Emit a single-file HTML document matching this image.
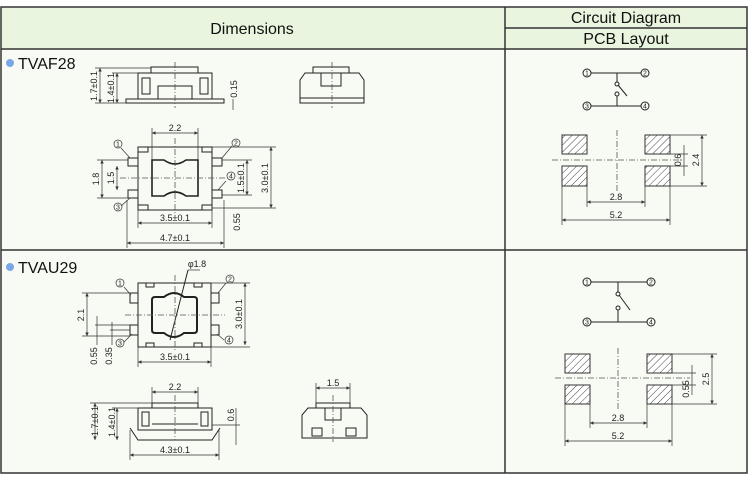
<!DOCTYPE html>
<html><head><meta charset="utf-8"><style>
html,body{margin:0;padding:0;background:#fff;}
svg{display:block;font-family:"Liberation Sans",Arial,sans-serif;}
</style></head><body>
<svg width="750" height="477" viewBox="0 0 750 477" xmlns="http://www.w3.org/2000/svg">
<defs>
<pattern id="h" width="5" height="5" patternUnits="userSpaceOnUse" patternTransform="rotate(45)">
<rect width="5" height="5" fill="#fff"/><line x1="0" y1="0" x2="0" y2="5" stroke="#444" stroke-width="1"/></pattern>
<marker id="a" viewBox="0 0 6 6" refX="6" refY="3" markerWidth="5" markerHeight="5" orient="auto-start-reverse"><path d="M0,0L6,3L0,6z" fill="#333"/></marker>
</defs>
<rect x="0" y="0" width="750" height="477" fill="#fff"/>
<rect x="1" y="7" width="746" height="42" fill="#e9f5de"/>
<rect x="1" y="49" width="746" height="424" fill="#f8fbf3"/>
<g stroke="#333" stroke-width="1.5" fill="none">
<rect x="1" y="7" width="746" height="466"/>
<line x1="1" y1="49" x2="747" y2="49"/>
<line x1="505" y1="7" x2="505" y2="473"/>
<line x1="505" y1="28" x2="747" y2="28"/>
<line x1="1" y1="250" x2="747" y2="250"/>
</g>
<g font-size="16" fill="#111" text-anchor="middle">
<text x="252" y="34">Dimensions</text>
<text x="626" y="23">Circuit Diagram</text>
<text x="626" y="44">PCB Layout</text>
</g>
<circle cx="10" cy="63" r="4" fill="#7aa7e8"/>
<text x="18" y="69" font-size="16" fill="#111">TVAF28</text>
<circle cx="10" cy="267" r="4" fill="#7aa7e8"/>
<text x="18" y="273" font-size="16" fill="#111">TVAU29</text>

<g stroke="#222" stroke-width="1" fill="none">
<!-- TVAF28 side -->
<rect x="126" y="99" width="98" height="4"/>
<rect x="138" y="73" width="74" height="26"/>
<rect x="151" y="67" width="47" height="6"/>
<rect x="142" y="78" width="8" height="16"/><rect x="200" y="78" width="8" height="16"/>
<rect x="158" y="86" width="34" height="13"/>
<!-- right view -->
<path d="M300,103V80l5,-7h54l5,7v23z"/>
<rect x="313" y="67" width="36" height="6"/>
<rect x="321" y="73" width="20" height="13"/>
<line x1="300" y1="98" x2="364" y2="98"/>
<!-- top view -->
<rect x="138" y="147" width="74" height="63"/>
<path d="M152,160h12q11,8 22,0h12v36h-12q-11,-8 -22,0h-12z" stroke-width="1.6"/>
<rect x="128" y="158" width="10" height="8"/><rect x="128" y="190" width="10" height="8"/>
<rect x="212" y="158" width="10" height="8"/><rect x="212" y="190" width="10" height="8"/>
<rect x="138" y="147" width="10" height="5"/><rect x="202" y="147" width="10" height="5"/>
<rect x="138" y="205" width="10" height="5"/><rect x="202" y="205" width="10" height="5"/>
<!-- TVAU29 top -->
<rect x="138" y="283" width="73" height="64"/>
<path d="M152,300q0,-3 3,-3h9q10,-8 20,0h10q3,0 3,3v30q0,3 -3,3h-10q-10,8 -20,0h-9q-3,0 -3,-3z" stroke-width="2"/>
<rect x="130" y="293" width="8" height="10"/><rect x="130" y="325" width="8" height="10"/>
<rect x="211" y="293" width="8" height="10"/><rect x="211" y="325" width="8" height="10"/>
<rect x="146" y="283" width="8" height="4"/><rect x="194" y="283" width="8" height="4"/>
<rect x="146" y="343" width="8" height="4"/><rect x="194" y="343" width="8" height="4"/>
<line x1="170" y1="340" x2="188" y2="270"/>
<!-- TVAU29 side -->
<rect x="138" y="408" width="74" height="22"/>
<rect x="152" y="403" width="46" height="5"/>
<path d="M130,428l8,12h74l8,-12"/>
<rect x="142" y="412" width="7" height="14"/><rect x="201" y="412" width="7" height="14"/>
<line x1="152" y1="424" x2="198" y2="424"/>
<!-- right view 2 -->
<path d="M302,438V415l6,-7h53l6,7v23z"/>
<rect x="316" y="403" width="34" height="5"/>
<rect x="325" y="408" width="16" height="12"/>
<rect x="312" y="428" width="10" height="8"/><rect x="346" y="428" width="10" height="8"/>
</g>
<!-- center lines -->
<g stroke="#555" stroke-width="0.8" stroke-dasharray="6,2,1,2" fill="none">
<line x1="175" y1="62" x2="175" y2="108"/><line x1="332" y1="62" x2="332" y2="108"/>
<line x1="175" y1="138" x2="175" y2="216"/><line x1="120" y1="178" x2="230" y2="178"/>
<line x1="175" y1="275" x2="175" y2="352"/><line x1="125" y1="315" x2="225" y2="315"/>
<line x1="175" y1="395" x2="175" y2="440"/><line x1="333" y1="395" x2="333" y2="442"/>
<line x1="617" y1="130" x2="617" y2="192"/><line x1="552" y1="160" x2="682" y2="160"/>
<line x1="618" y1="348" x2="618" y2="410"/><line x1="555" y1="378" x2="690" y2="378"/>
</g>
<!-- dims -->
<g stroke="#333" stroke-width="0.7" fill="none">
<line x1="100" y1="68" x2="100" y2="103" marker-start="url(#a)" marker-end="url(#a)"/>
<line x1="117" y1="73" x2="117" y2="103" marker-start="url(#a)" marker-end="url(#a)"/>
<line x1="95" y1="68" x2="151" y2="68"/><line x1="95" y1="103" x2="126" y2="103"/><line x1="112" y1="73" x2="138" y2="73"/>
<line x1="233" y1="99" x2="233" y2="110"/>
<line x1="152" y1="133" x2="198" y2="133" marker-start="url(#a)" marker-end="url(#a)"/>
<line x1="152" y1="128" x2="152" y2="160"/><line x1="198" y1="128" x2="198" y2="160"/>
<line x1="138" y1="223" x2="212" y2="223" marker-start="url(#a)" marker-end="url(#a)"/>
<line x1="127" y1="243" x2="224" y2="243" marker-start="url(#a)" marker-end="url(#a)"/>
<line x1="127" y1="200" x2="127" y2="248"/><line x1="224" y1="200" x2="224" y2="248"/><line x1="138" y1="210" x2="138" y2="228"/><line x1="212" y1="210" x2="212" y2="228"/>
<line x1="271" y1="147" x2="271" y2="208" marker-start="url(#a)" marker-end="url(#a)"/>
<line x1="212" y1="147" x2="276" y2="147"/><line x1="212" y1="208" x2="276" y2="208"/>
<line x1="247" y1="160" x2="247" y2="195" marker-start="url(#a)" marker-end="url(#a)"/>
<line x1="222" y1="195" x2="252" y2="195"/><line x1="222" y1="160" x2="252" y2="160"/>
<line x1="102" y1="160" x2="102" y2="198" marker-start="url(#a)" marker-end="url(#a)"/>
<line x1="117" y1="166" x2="117" y2="190" marker-start="url(#a)" marker-end="url(#a)"/>
<line x1="97" y1="160" x2="128" y2="160"/><line x1="97" y1="198" x2="128" y2="198"/>
<line x1="87" y1="293" x2="87" y2="336" marker-start="url(#a)" marker-end="url(#a)"/>
<line x1="82" y1="293" x2="130" y2="293"/><line x1="82" y1="336" x2="130" y2="336"/>
<line x1="97" y1="316" x2="97" y2="345"/><line x1="112" y1="322" x2="112" y2="345"/>
<line x1="95" y1="325" x2="130" y2="325"/><line x1="110" y1="330" x2="130" y2="330"/>
<line x1="245" y1="283" x2="245" y2="345" marker-start="url(#a)" marker-end="url(#a)"/>
<line x1="211" y1="283" x2="250" y2="283"/><line x1="211" y1="347" x2="250" y2="347"/>
<line x1="138" y1="362" x2="211" y2="362" marker-start="url(#a)" marker-end="url(#a)"/>
<line x1="138" y1="347" x2="138" y2="367"/><line x1="211" y1="347" x2="211" y2="367"/>
<line x1="152" y1="392" x2="198" y2="392" marker-start="url(#a)" marker-end="url(#a)"/>
<line x1="152" y1="387" x2="152" y2="403"/><line x1="198" y1="387" x2="198" y2="403"/>
<line x1="130" y1="455" x2="219" y2="455" marker-start="url(#a)" marker-end="url(#a)"/>
<line x1="130" y1="430" x2="130" y2="460"/><line x1="219" y1="430" x2="219" y2="460"/>
<line x1="95" y1="403" x2="95" y2="440" marker-start="url(#a)" marker-end="url(#a)"/>
<line x1="117" y1="408" x2="117" y2="440" marker-start="url(#a)" marker-end="url(#a)"/>
<line x1="90" y1="403" x2="152" y2="403"/><line x1="112" y1="408" x2="138" y2="408"/>
<line x1="236" y1="408" x2="236" y2="445"/><line x1="212" y1="425" x2="240" y2="425"/>
<line x1="316" y1="388" x2="350" y2="388" marker-start="url(#a)" marker-end="url(#a)"/>
<line x1="316" y1="383" x2="316" y2="403"/><line x1="350" y1="383" x2="350" y2="403"/>
<!-- pcb dims 1 -->
<line x1="587" y1="202" x2="645" y2="202" marker-start="url(#a)" marker-end="url(#a)"/>
<line x1="562" y1="220" x2="670" y2="220" marker-start="url(#a)" marker-end="url(#a)"/>
<line x1="587" y1="186" x2="587" y2="207"/><line x1="645" y1="186" x2="645" y2="207"/><line x1="562" y1="186" x2="562" y2="225"/><line x1="670" y1="186" x2="670" y2="225"/>
<line x1="702" y1="135" x2="702" y2="186" marker-start="url(#a)" marker-end="url(#a)"/>
<line x1="670" y1="135" x2="707" y2="135"/><line x1="670" y1="186" x2="707" y2="186"/>
<line x1="684" y1="145" x2="684" y2="176"/><line x1="670" y1="154" x2="688" y2="154"/><line x1="670" y1="166" x2="688" y2="166"/>
<!-- pcb dims 2 -->
<line x1="590" y1="423" x2="647" y2="423" marker-start="url(#a)" marker-end="url(#a)"/>
<line x1="565" y1="441" x2="672" y2="441" marker-start="url(#a)" marker-end="url(#a)"/>
<line x1="590" y1="404" x2="590" y2="428"/><line x1="647" y1="404" x2="647" y2="428"/><line x1="565" y1="404" x2="565" y2="446"/><line x1="672" y1="404" x2="672" y2="446"/>
<line x1="712" y1="354" x2="712" y2="404" marker-start="url(#a)" marker-end="url(#a)"/>
<line x1="672" y1="354" x2="717" y2="354"/><line x1="672" y1="404" x2="717" y2="404"/>
<line x1="692" y1="365" x2="692" y2="395"/><line x1="672" y1="373" x2="696" y2="373"/><line x1="672" y1="385" x2="696" y2="385"/>
<!-- leaders -->
<line x1="121" y1="148" x2="130" y2="158"/><line x1="232" y1="146" x2="222" y2="158"/>
<line x1="121" y1="206" x2="130" y2="198"/><line x1="226" y1="181" x2="218" y2="190"/>
<line x1="124" y1="287" x2="131" y2="295"/><line x1="226" y1="283" x2="218" y2="293"/>
<line x1="124" y1="342" x2="132" y2="334"/><line x1="224" y1="340" x2="217" y2="334"/>
<line x1="188" y1="270" x2="200" y2="270"/>
</g>
<g font-size="9" fill="#222" text-anchor="middle">
<text transform="translate(97,86) rotate(-90)">1.7±0.1</text>
<text transform="translate(114,88) rotate(-90)">1.4±0.1</text>
<text transform="translate(237,89) rotate(-90)">0.15</text>
<text x="175" y="131">2.2</text>
<text x="175" y="221">3.5±0.1</text>
<text x="175" y="241">4.7±0.1</text>
<text transform="translate(268,178) rotate(-90)">3.0±0.1</text>
<text transform="translate(244,178) rotate(-90)">1.5±0.1</text>
<text transform="translate(99,179) rotate(-90)">1.8</text>
<text transform="translate(114,178) rotate(-90)">1.5</text>
<text transform="translate(240,222) rotate(-90)">0.55</text>
<text x="197" y="267">φ1.8</text>
<text transform="translate(84,315) rotate(-90)">2.1</text>
<text transform="translate(97,356) rotate(-90)">0.55</text>
<text transform="translate(112,356) rotate(-90)">0.35</text>
<text transform="translate(242,314) rotate(-90)">3.0±0.1</text>
<text x="175" y="360">3.5±0.1</text>
<text x="175" y="390">2.2</text>
<text x="175" y="453">4.3±0.1</text>
<text transform="translate(98,421) rotate(-90)">1.7±0.1</text>
<text transform="translate(115,422) rotate(-90)">1.4±0.1</text>
<text transform="translate(234,415) rotate(-90)">0.6</text>
<text x="333" y="386">1.5</text>
<text x="616" y="200">2.8</text>
<text x="616" y="218">5.2</text>
<text transform="translate(699,160) rotate(-90)">2.4</text>
<text transform="translate(681,160) rotate(-90)">0.6</text>
<text x="618" y="421">2.8</text>
<text x="618" y="439">5.2</text>
<text transform="translate(709,379) rotate(-90)">2.5</text>
<text transform="translate(689,389) rotate(-90)">0.55</text>
</g>
<!-- pin circles on drawings -->
<g font-size="7" fill="#222" text-anchor="middle">
<g fill="none" stroke="#333" stroke-width="0.7">
<circle cx="118" cy="144" r="4"/><circle cx="236" cy="143" r="4"/><circle cx="118" cy="207" r="4"/><circle cx="231" cy="176" r="4"/>
<circle cx="120" cy="283" r="4"/><circle cx="230" cy="279" r="4"/><circle cx="120" cy="343" r="4"/><circle cx="229" cy="340" r="4"/>
</g>
<text x="118" y="146.5">1</text><text x="236" y="145.5">2</text><text x="118" y="209.5">3</text><text x="231" y="178.5">4</text>
<text x="120" y="285.5">1</text><text x="230" y="281.5">2</text><text x="120" y="345.5">3</text><text x="229" y="342.5">4</text>
</g>
<!-- circuit 1 -->
<g stroke="#222" stroke-width="1" fill="none">
<line x1="591" y1="73" x2="641" y2="73"/><line x1="617" y1="73" x2="617" y2="82"/>
<circle cx="617" cy="84" r="2"/><line x1="618" y1="85" x2="627" y2="96"/>
<circle cx="617" cy="94" r="2"/><line x1="617" y1="96" x2="617" y2="106"/>
<line x1="591" y1="106" x2="641" y2="106"/>
<circle cx="587" cy="73" r="4"/><circle cx="645" cy="73" r="4"/><circle cx="587" cy="106" r="4"/><circle cx="645" cy="106" r="4"/>
</g>
<g stroke="#222" stroke-width="1" fill="none">
<line x1="591" y1="282" x2="647" y2="282"/><line x1="618" y1="282" x2="618" y2="292"/>
<circle cx="618" cy="294" r="2"/><line x1="619" y1="295" x2="630" y2="310"/>
<circle cx="618" cy="308" r="2"/><line x1="618" y1="310" x2="618" y2="322"/>
<line x1="591" y1="322" x2="647" y2="322"/>
<circle cx="587" cy="282" r="4"/><circle cx="651" cy="282" r="4"/><circle cx="587" cy="322" r="4"/><circle cx="651" cy="322" r="4"/>
</g>
<g font-size="7" fill="#222" text-anchor="middle">
<text x="587" y="75.5">1</text><text x="645" y="75.5">2</text><text x="587" y="108.5">3</text><text x="645" y="108.5">4</text>
<text x="587" y="284.5">1</text><text x="651" y="284.5">2</text><text x="587" y="324.5">3</text><text x="651" y="324.5">4</text>
</g>
<!-- pads -->
<g fill="url(#h)" stroke="#333" stroke-width="1">
<rect x="562" y="135" width="25" height="19"/><rect x="645" y="135" width="25" height="19"/>
<rect x="562" y="166" width="25" height="20"/><rect x="645" y="166" width="25" height="20"/>
<rect x="565" y="354" width="25" height="19"/><rect x="647" y="354" width="25" height="19"/>
<rect x="565" y="385" width="25" height="19"/><rect x="647" y="385" width="25" height="19"/>
</g>
</svg>
</body></html>
